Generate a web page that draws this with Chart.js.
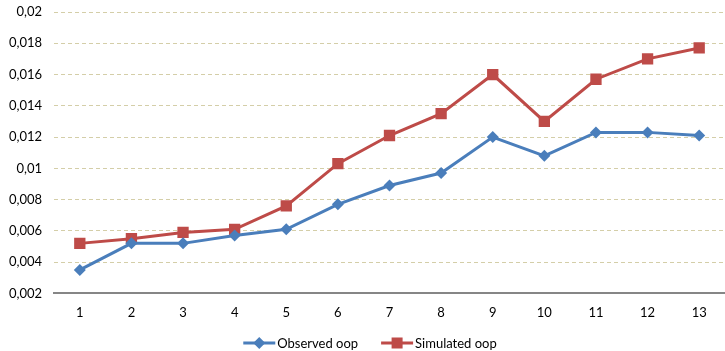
<!DOCTYPE html>
<html>
<head>
<meta charset="utf-8">
<script src="https://cdn.jsdelivr.net/npm/chart.js@4.4.1/dist/chart.umd.min.js"></script>
<style>
    html, body { margin: 0; padding: 0; background: #fff; }
    #wrap { width: 725px; height: 351px; }
</style>
</head>
<body>
<div id="wrap"><canvas id="chart1"></canvas></div>
<script>
        const categories = ['1', '2', '3', '4', '5', '6', '7', '8', '9', '10', '11', '12', '13'];
        const observed = [0.0035, 0.0052, 0.0052, 0.0057, 0.0061, 0.0077, 0.0089, 0.0097, 0.0120, 0.0108, 0.0123, 0.0123, 0.0121];
        const simulated = [0.0052, 0.0055, 0.0059, 0.0061, 0.0076, 0.0103, 0.0121, 0.0135, 0.0160, 0.0130, 0.0157, 0.0170, 0.0177];
        const seriesNames = ['Observed oop', 'Simulated oop'];

        const BLUE = '#4a7ebb';
        const RED = '#be4b48';
        const FONT = 'Lato, "Open Sans", sans-serif';

        function drawMarker(g, style, x, y, color) {    // same shapes as the points
            g.fillStyle = color;
            if (style === 'rect') {
                g.fillRect(x - 5.5, y - 5.5, 11, 11);
            } else {
                g.beginPath();
                g.moveTo(x, y - 6);
                g.lineTo(x + 6, y);
                g.lineTo(x, y + 6);
                g.lineTo(x - 6, y);
                g.closePath();
                g.fill();
            }
        }

        // Legend at the bottom: line + marker, then the name
        const lineLegend = {
            id: 'lineLegend',
            afterDraw(ch) {
                const g = ch.ctx;
                const y = 343;
                const iconW = 32;
                const gapIcon = 2;
                const gapItem = 23;
                g.save();
                g.font = '13px ' + FONT;
                g.textBaseline = 'middle';
                const items = ch.data.datasets.map(ds => ({
                    ds: ds,
                    w: iconW + gapIcon + g.measureText(ds.label).width
                }));
                const total = items.reduce((s, it) => s + it.w, 0) + gapItem * (items.length - 1);
                let x = 370 - total / 2;
                items.forEach(it => {
                    g.strokeStyle = it.ds.borderColor;
                    g.lineWidth = 3;
                    g.beginPath();
                    g.moveTo(x, y);
                    g.lineTo(x + iconW, y);
                    g.stroke();
                    drawMarker(g, it.ds.pointStyle, x + iconW / 2, y, it.ds.borderColor);
                    g.fillStyle = '#000';
                    g.fillText(it.ds.label, x + iconW + gapIcon, y + 1);
                    x += it.w + gapItem;
                });
                g.restore();
            }
        };

        const ctx = document.getElementById('chart1').getContext('2d');
        const chart = new Chart(ctx, {
            type: 'line',
            data: {
                labels: categories,
                datasets: [{
                    label: seriesNames[0],
                    data: observed,
                    borderColor: BLUE,
                    backgroundColor: BLUE,
                    borderWidth: 3,
                    pointStyle: 'rectRot',
                    pointRadius: 6,
                    pointHoverRadius: 6,
                    pointBorderWidth: 0,
                    tension: 0
                }, {
                    label: seriesNames[1],
                    data: simulated,
                    borderColor: RED,
                    backgroundColor: RED,
                    borderWidth: 3,
                    pointStyle: 'rect',
                    pointRadius: 8,
                    pointHoverRadius: 8,
                    pointBorderWidth: 0,
                    tension: 0
                }]
            },
            plugins: [lineLegend],
            options: {
                responsive: true,
                maintainAspectRatio: false,
                animation: false,
                layout: { autoPadding: false, padding: { top: 0, right: 0, left: 0, bottom: 18 } },
                plugins: {
                    tooltip: { enabled: false },
                    legend: { display: false }
                },
                scales: {
                    x: {
                        offset: true,
                        grid: { display: false, drawTicks: false },
                        border: { color: '#868686', width: 2 },
                        ticks: { color: '#000', font: { family: FONT, size: 13 }, padding: 12 },
                        afterFit: (s) => { s.paddingLeft = 0; s.paddingRight = 0; }
                    },
                    y: {
                        min: 0.002,
                        max: 0.02,
                        grid: { color: '#d4cea8', drawTicks: false },
                        border: { display: false, dash: [4, 3] },
                        ticks: {
                            stepSize: 0.002,
                            color: '#000',
                            padding: 12,
                            font: { family: FONT, size: 13 },
                            callback: (v) => String(Math.round(v * 1000) / 1000).replace('.', ',')
                        },
                        afterFit: (s) => { s.width = 54; s.paddingTop = 12; s.paddingBottom = 0; }
                    }
                }
            }
        });
</script>
</body>
</html>
